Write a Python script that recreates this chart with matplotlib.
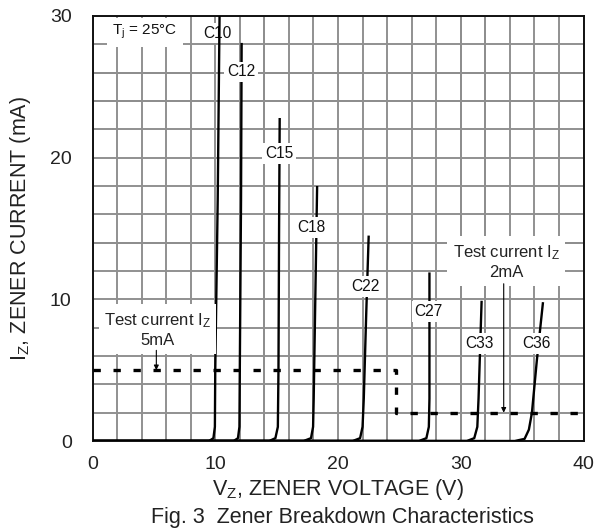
import matplotlib
matplotlib.use("Agg")
import matplotlib.pyplot as plt

plt.rcParams['font.family'] = ['Liberation Sans', 'DejaVu Sans']
plt.rcParams['mathtext.fontset'] = 'custom'
plt.rcParams['mathtext.rm'] = 'Liberation Sans'
plt.rcParams['mathtext.it'] = 'Liberation Sans:italic'

# breakdown curves (V in volts, I in mA)
curve_names = ["C10", "C12", "C15", "C18", "C22", "C27", "C33", "C36"]
curve_v = [
    [0, 9.5, 9.85, 9.97, 10.0, 10.2, 10.35],
    [0, 11.5, 11.85, 11.97, 12.0, 12.1, 12.15],
    [0, 14.4, 14.9, 15.1, 15.15, 15.2, 15.25],
    [0, 17.2, 17.8, 17.97, 18.02, 18.15, 18.3],
    [0, 21.2, 21.8, 22.0, 22.1, 22.3, 22.5],
    [0, 26.6, 27.2, 27.4, 27.45, 27.45],
    [0, 30.5, 31.1, 31.35, 31.45, 31.7],
    [0, 34.4, 35.2, 35.55, 35.8, 36.2, 36.7],
]
curve_i = [
    [0, 0, 0.2, 1, 5, 17, 30],
    [0, 0, 0.2, 1, 5, 17, 28.1],
    [0, 0, 0.2, 1, 5, 15, 22.8],
    [0, 0, 0.2, 1, 3, 10, 18],
    [0, 0, 0.2, 1, 3, 9, 14.5],
    [0, 0, 0.2, 1, 3, 11.9],
    [0, 0, 0.2, 1, 3, 9.9],
    [0, 0, 0.15, 0.8, 2, 5.7, 9.8],
]
# label positions for each curve
label_v = [10.16, 12.1, 15.2, 17.8, 22.2, 27.4, 31.5, 36.2]
label_i = [28.8, 26.05, 20.3, 15.07, 10.9, 9.15, 6.9, 6.9]

# test current line: 5mA up to 25V, then 2mA
test_v = [0, 24.7, 24.7, 40]
test_i = [5, 5, 2, 2]

fig = plt.figure(figsize=(5.94, 5.29), dpi=100)
ax = fig.add_axes([92.5 / 594, 1 - 441 / 529, 491 / 594, 425 / 529])

ax.set_xlim(0, 40)
ax.set_ylim(0, 30)
ax.set_xticks([0, 10, 20, 30, 40])
ax.set_yticks([0, 10, 20, 30])
ax.set_xticks(range(0, 41, 2), minor=True)
ax.set_yticks(range(0, 31, 2), minor=True)
ax.tick_params(which='both', length=0)
ax.tick_params(axis='x', pad=11, labelsize=14, colors='#222222')
ax.tick_params(axis='y', pad=15, labelsize=14, colors='#222222')
ax.grid(True, which='both', color='#909090', linewidth=1.4, zorder=0)
ax.set_axisbelow(True)

# a few grid lines come out darker in the original print
for v in [14, 30, 32]:
    ax.axvline(v, color='#1a1a1a', linewidth=1.1, zorder=0.5)
for i in [14, 24, 26]:
    ax.axhline(i, color='#1a1a1a', linewidth=1.1, zorder=0.5)

for s in ax.spines.values():
    s.set_linewidth(1.4)
    s.set_color('#111111')

ax.plot(test_v, test_i, color='black', linewidth=2.4, dashes=(2.2, 3.8), zorder=3)

for name, v, i, lv, li in zip(curve_names, curve_v, curve_i, label_v, label_i):
    ax.plot(v, i, color='black', linewidth=1.7, zorder=4, solid_capstyle='butt')
    ax.text(lv, li, name, ha='center', va='center', fontsize=11.2, color='#111111',
            zorder=3.5 if name == "C10" else 5,
            bbox=dict(facecolor='white', edgecolor='none', pad=2))

ax.text(1.6, 28.85, r"T$_{\rm j}$ = 25°C", ha='left', va='center', fontsize=11,
        color='#111111', zorder=5,
        bbox=dict(facecolor='white', edgecolor='none', pad=4))

ax.text(5.3, 7.85, "Test current I$_{\\rm Z}$\n5mA", ha='center', va='center',
        fontsize=12, color='#222222', linespacing=1.25, zorder=5,
        bbox=dict(facecolor='white', edgecolor='none', pad=4))
ax.annotate("", xy=(5.2, 5.0), xytext=(5.2, 6.4),
            arrowprops=dict(arrowstyle='-|>', color='black', lw=0.8,
                            mutation_scale=7, shrinkA=0, shrinkB=0), zorder=6)

ax.text(33.7, 12.65, "Test current I$_{\\rm Z}$\n2mA", ha='center', va='center',
        fontsize=12, color='#222222', linespacing=1.25, zorder=5,
        bbox=dict(facecolor='white', edgecolor='none', pad=4))
ax.annotate("", xy=(33.5, 2.0), xytext=(33.5, 11.1),
            arrowprops=dict(arrowstyle='-|>', color='black', lw=0.8,
                            mutation_scale=7, shrinkA=0, shrinkB=0), zorder=6)

ax.set_xlabel(r"V$_{\rm Z}$, ZENER VOLTAGE (V)", fontsize=15.5, color='#222222')
ax.set_ylabel(r"I$_{\rm Z}$, ZENER CURRENT (mA)", fontsize=15.5, color='#222222')
ax.yaxis.set_label_coords(-(92.5 - 20) / 491, 0.5)
ax.xaxis.set_label_coords(0.5, -(490 - 441) / 425)
ax.xaxis.label.set_va('center')
ax.yaxis.label.set_va('center')

fig.text(342 / 594, 1 - 517 / 529, "Fig. 3  Zener Breakdown Characteristics",
         ha='center', va='center', fontsize=15.5, color='#222222')

fig.savefig("out.png", dpi=100)
